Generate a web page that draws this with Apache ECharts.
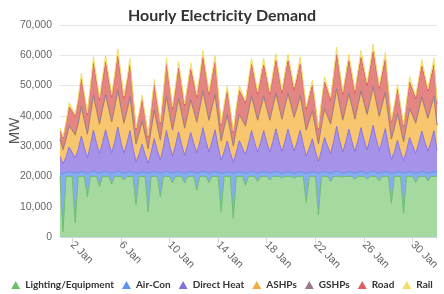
<!DOCTYPE html>
<html>
<head>
<meta charset="utf-8">
<script src="https://cdn.jsdelivr.net/npm/echarts@6/dist/echarts.min.js"></script>
<style>html,body{margin:0;padding:0;background:#fff}#c{width:444px;height:294px}</style>
</head>
<body>
<div id="c"></div>
<script>
// ---- data (MW), 6-hourly samples: each day at 00:00, 06:00, 12:00, 18:00, then 1 Feb 00:00
const seriesNames = ['Lighting/Equipment','Air-Con','Direct Heat','ASHPs','GSHPs','Road','Rail'];
const sampleHoursOfDay = [0, 6, 12, 18];
const numDays = 31;
const tickDays = [2, 6, 10, 14, 18, 22, 26, 30];
const tickLabels = ['2 Jan','6 Jan','10 Jan','14 Jan','18 Jan','22 Jan','26 Jan','30 Jan'];

const lighting = [
 20000,1700,20000,20000, 20000,4700,20000,20000, 20000,13300,20000,20000, 20000,16600,20000,20000,
 20000,17500,20000,20000, 20000,18800,20000,20000, 20000,10600,20000,20000, 20000,8400,20000,20000,
 20000,13300,20000,20000, 20000,17800,20000,20000, 20000,17800,20000,20000, 20000,15500,20000,20000,
 20000,18000,20000,20000, 20000,8400,20000,20000, 20000,6200,20000,20000, 20000,17000,20000,20000,
 20000,18300,20000,20000, 20000,18800,20000,20000, 20000,19500,20000,20000, 20000,19500,20000,20000,
 20000,11500,20000,20000, 20000,7300,20000,20000, 20000,18300,20000,20000, 20000,19800,20000,20000,
 20000,19000,20000,20000, 20000,19000,20000,20000, 20000,18500,20000,20000, 20000,11200,20000,20000,
 20000,7900,20000,20000, 20000,18000,20000,20000, 20000,18500,20000,20000,
 20000];
const airCon = [
 1000,19300,1300,1500, 1300,16300,1200,1600, 1300,7700,1300,1700, 1300,4400,1400,1600,
 1300,3500,1300,1800, 1300,2200,1300,1600, 1300,10400,1200,1500, 1300,12600,1300,1600,
 1300,7700,1300,1700, 1300,3200,1400,1600, 1300,3200,1300,1600, 1300,5500,1300,1700,
 1300,3000,1400,1600, 1300,12600,1200,1500, 1300,14800,1300,1600, 1300,4000,1300,1700,
 1300,2700,1300,1600, 1300,2200,1400,1700, 1300,1500,1300,1600, 1300,1500,1300,1600,
 1300,9500,1200,1500, 1300,13700,1300,1600, 1300,2700,1400,1800, 1300,1200,1300,1600,
 1300,2000,1300,1700, 1300,2000,1400,1800, 1300,2500,1300,1600, 1300,9800,1200,1500,
 1300,13100,1300,1600, 1300,3000,1300,1700, 1300,2500,1300,1600,
 1300];
const directHeat = [
 5500,3100,5200,8200, 6600,5100,7700,11700, 8100,5200,8900,13600, 9700,6500,9800,13800,
 10000,6800,10100,14500, 10200,6600,9500,13500, 8100,3900,6100,9100, 5900,3300,6700,10900,
 7300,4400,8300,13500, 9200,5700,8900,13100, 9200,6000,9100,12900, 9600,6800,10100,14400,
 10400,7000,10100,13800, 8500,4300,7000,10200, 6600,3600,6700,10200, 8100,6200,9500,13500,
 10000,7000,10000,13500, 10000,7000,10100,14000, 10300,7200,10300,14000, 10400,7400,10100,13600,
 9300,5700,8100,10900, 7000,3900,7300,11300, 8700,6500,10100,14700, 10500,7000,10100,14000,
 10300,7200,10400,14400, 10800,7800,11100,15100, 11000,7500,10600,14200, 8800,4600,7000,10400,
 6900,4200,7300,11300, 8800,6600,9700,13300, 10000,7300,10100,13500,
 7300];
const ashps = [
 5500,4600,5700,6600, 7200,7400,8400,9400, 8900,7600,9800,11000, 10700,9500,10800,11100,
 10900,9900,11100,11700, 11200,9700,10400,10800, 8900,5700,6700,7400, 6400,4700,7400,8800,
 8100,6500,9100,10800, 10100,8400,9800,10600, 10100,8700,9900,10400, 10500,9900,11100,11600,
 11400,10300,11100,11100, 9300,6300,7700,8200, 7200,5300,7400,8200, 8900,9100,10400,10800,
 10900,10300,10900,10800, 10900,10300,11100,11300, 11300,10500,11300,11300, 11500,10800,11100,11000,
 10200,8400,8900,8800, 7700,5700,8100,9100, 9600,9500,11100,11900, 11500,10300,11100,11300,
 11300,10500,11500,11600, 11900,11400,12100,12200, 12000,11000,11600,11400, 9700,6600,7700,8400,
 7600,6100,8100,9100, 9700,9700,10600,10700, 11000,10600,11100,10800,
 8100];
const gshps = [
 500,200,300,400, 300,300,300,500, 400,300,400,600, 500,400,500,600,
 500,400,500,600, 500,400,500,600, 400,200,300,400, 300,200,300,500,
 300,200,400,600, 500,300,400,500, 500,400,400,500, 400,400,500,600,
 500,400,500,600, 500,200,400,500, 300,200,300,500, 400,400,500,600,
 500,400,500,600, 500,400,500,600, 500,300,500,600, 500,500,500,600,
 500,300,400,500, 400,200,300,500, 400,400,500,600, 500,400,500,600,
 500,300,500,600, 500,400,500,600, 500,500,500,600, 400,300,400,500,
 400,200,300,500, 400,400,500,600, 500,400,500,600,
 300];
const road = [
 2500,3700,4800,6300, 6100,6000,7200,8900, 7600,6200,8300,10400, 9100,7700,9200,10600,
 9300,8000,9500,11100, 9500,7900,8900,10300, 7600,4700,5700,7000, 5500,3900,6300,8400,
 6900,5300,7700,10300, 8600,6800,8300,10000, 8600,7100,8500,9900, 9000,8000,9500,11000,
 9600,8400,9500,10600, 7900,5100,6600,7800, 6100,4400,6300,7800, 7600,7400,8900,10300,
 9300,8400,9300,10300, 9300,8400,9500,10700, 9600,8500,9600,10700, 9800,8800,9500,10400,
 8600,6800,7600,8400, 6600,4700,6900,8600, 8200,7700,9500,11200, 9800,8400,9500,10700,
 9600,8500,9800,11000, 10100,9300,10400,11500, 10300,9000,9900,10800, 8200,5400,6600,7900,
 6500,5000,6900,8600, 8200,7900,9000,10100, 9400,8700,9500,10300,
 6900];
const rail = [
 1000,400,700,1400, 1000,700,1100,1900, 1200,700,1300,2300, 1400,900,1400,2300,
 1500,900,1500,2500, 1500,900,1400,2200, 1200,500,900,1500, 800,400,1000,1800,
 1100,600,1200,2200, 1300,800,1300,2200, 1300,800,1300,2200, 1400,900,1500,2300,
 1500,900,1500,2300, 1200,600,1000,1700, 1000,500,1000,1700, 1200,900,1400,2200,
 1500,900,1500,2200, 1500,900,1500,2300, 1500,1000,1500,2300, 1500,1000,1500,2300,
 1300,800,1200,1800, 1000,500,1100,1900, 1300,900,1500,2500, 1600,900,1500,2300,
 1500,1000,1500,2300, 1600,1100,1600,2500, 1600,1000,1600,2400, 1300,600,1000,1700,
 1000,500,1100,1900, 1300,900,1400,2200, 1500,1000,1500,2200,
 1100];

// ---- category labels for the samples
const times = [];
for (let d = 1; d <= numDays; d++) for (const h of sampleHoursOfDay) times.push(d + ' Jan ' + String(h).padStart(2, '0') + ':00');
times.push('1 Feb 00:00');
const tickIndex = tickDays.map(d => (d - 1) * sampleHoursOfDay.length);
const showTick = idx => tickIndex.indexOf(idx) >= 0;

const allValues = [lighting, airCon, directHeat, ashps, gshps, road, rail];
const lineColors = ['#6cbf6c', '#5b95ec', '#8672dc', '#f2ad3c', '#9a7a8e', '#d9625f', '#f3dc6a'];
const fillColors = ['#a5d9a0', '#86acf2', '#a792ea', '#f8c66f', '#b7929f', '#e38583', '#faea9e'];

const chart = echarts.init(document.getElementById('c'), null, {renderer: 'canvas'});
chart.setOption({
  animation: false,
  title: {
    text: 'Hourly Electricity Demand', left: 'center', top: 3,
    textStyle: {fontFamily: 'Lato, sans-serif', fontWeight: 'bold', fontSize: 16, color: '#333'}
  },
  legend: {
    data: seriesNames, left: 'center', top: 275, icon: 'triangle',
    itemWidth: 9, itemHeight: 8, itemGap: 8,
    textStyle: {fontFamily: 'Lato, sans-serif', fontWeight: 'bold', fontSize: 10, color: '#333'}
  },
  grid: {left: 60, right: 7, top: 25, bottom: 57, outerBoundsMode: 'none', containLabel: false},
  xAxis: {
    type: 'category', data: times, boundaryGap: false,
    splitLine: {show: false},
    axisLine: {show: true, lineStyle: {color: '#ccd6eb'}},
    axisTick: {show: true, length: 6, interval: showTick, lineStyle: {color: '#ccd6eb'}},
    axisLabel: {
      interval: showTick,
      formatter: (v, idx) => tickLabels[tickIndex.indexOf(idx)],
      rotate: -45, margin: 6, fontFamily: "'Liberation Sans', sans-serif", fontSize: 11, color: '#666'
    }
  },
  yAxis: {
    type: 'value', min: 0, max: 70000, interval: 10000,
    name: 'MW', nameLocation: 'middle', nameGap: 38, nameMoveOverlap: false,
    nameTextStyle: {fontFamily: "'Liberation Sans', sans-serif", fontSize: 15, color: '#555'},
    axisLine: {show: false}, axisTick: {show: false},
    splitLine: {lineStyle: {color: '#e6e6e6'}},
    axisLabel: {formatter: v => v.toLocaleString('en-US'), fontFamily: "'Liberation Sans', sans-serif",
      fontSize: 10.5, color: '#666', margin: 8}
  },
  series: seriesNames.map((name, i) => ({
    name, type: 'line', stack: 'total', symbol: 'none', smooth: false,
    color: lineColors[i],
    lineStyle: {width: 1, color: lineColors[i]},
    areaStyle: {color: fillColors[i], opacity: 1},
    data: allValues[i]
  }))
});
</script>
</body>
</html>
